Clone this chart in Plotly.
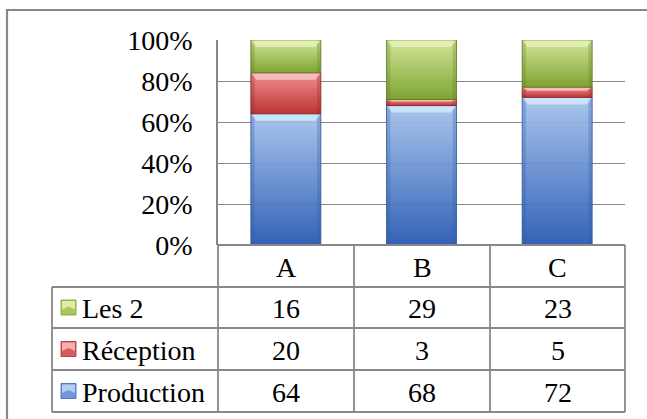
import plotly.graph_objects as go

# Data
categories = ["A", "B", "C"]
series_names = ["Production", "Réception", "Les 2"]
production = [64, 68, 72]
reception = [20, 3, 5]
les2 = [16, 29, 23]
y_ticks = [0, 20, 40, 60, 80, 100]
y_tick_labels = ["0%", "20%", "40%", "60%", "80%", "100%"]

values = [production, reception, les2]

W, H = 647, 419
FONT = '"Liberation Serif", "Times New Roman", Times, serif'

# Per-series gradient (bottom, top), bevel highlight, edge colour, key colours
styles = {
    "Production": dict(bottom="rgba(38,88,178,0.94)", top="rgba(165,194,236,0.94)",
                       bevel="rgba(214,238,252,0.95)", edge="#2f5a9e",
                       key_mid="#6f98d8", key_hi="#b4cdf0", key_lo="#3a66b0"),
    "Réception": dict(bottom="rgba(186,40,40,0.95)", top="rgba(240,140,140,0.95)",
                      bevel="rgba(250,205,205,0.95)", edge="#8a2424",
                      key_mid="#d85a5a", key_hi="#f4b0b0", key_lo="#a83030"),
    "Les 2": dict(bottom="rgba(120,160,40,0.95)", top="rgba(208,228,146,0.95)",
                  bevel="rgba(232,242,192,0.95)", edge="#5a7a22",
                  key_mid="#a8c858", key_hi="#dcecaa", key_lo="#7a9a30"),
}

# Plot area in pixels
PL, PR, PT, PB = 218, 625, 40, 245
half_w = 0.258  # half bar width, in category units
px_per_unit = (PB - PT) / 100.0
edge_w = 0.028  # darker side strips, in category units

fig = go.Figure()

cum = [0, 0, 0]
for name, vals in zip(series_names, values):
    st = styles[name]
    for i, v in enumerate(vals):
        y0, y1 = cum[i], cum[i] + v
        x0, x1 = i - half_w, i + half_w
        # bar segment with vertical gradient
        fig.add_trace(go.Scatter(
            x=[x0, x1, x1, x0, x0], y=[y0, y0, y1, y1, y0],
            mode="lines", fill="toself",
            line=dict(color=st["edge"], width=0.8),
            fillgradient=dict(type="vertical",
                              colorscale=[[0, st["bottom"]], [1, st["top"]]]),
            hoverinfo="skip", showlegend=False,
        ))
        # darker side strips
        for sx0, sx1 in ((x0, x0 + edge_w), (x1 - edge_w, x1)):
            fig.add_trace(go.Scatter(
                x=[sx0, sx1, sx1, sx0, sx0], y=[y0, y0, y1, y1, y0],
                mode="lines", fill="toself", line=dict(width=0),
                fillcolor=st["edge"], opacity=0.28,
                hoverinfo="skip", showlegend=False,
            ))
        # bevel highlight along the top edge of the segment
        bev = min(7 / px_per_unit, v * 0.35)
        inset = 0.04
        ytop = y1 - 0.4 / px_per_unit
        fig.add_trace(go.Scatter(
            x=[x0 + 0.004, x1 - 0.004, x1 - inset, x0 + inset, x0 + 0.004],
            y=[ytop, ytop, y1 - bev, y1 - bev, ytop],
            mode="lines", fill="toself", line=dict(width=0),
            fillcolor=st["bevel"], opacity=0.8,
            hoverinfo="skip", showlegend=False,
        ))
        cum[i] = y1

fig.update_xaxes(
    domain=[PL / W, PR / W], range=[-0.5, 2.5],
    showticklabels=False, showgrid=False, zeroline=False,
    tickvals=[0, 1, 2], fixedrange=True, automargin=False,
)
fig.update_yaxes(
    domain=[1 - PB / H, 1 - PT / H], range=[0, 100],
    tickvals=y_ticks, ticktext=y_tick_labels,
    showgrid=True, gridcolor="#878787", gridwidth=1.3,
    zeroline=False, showline=True, linecolor="#878787", linewidth=1.5,
    tickfont=dict(family=FONT, size=28, color="black"),
    ticks="", ticklabelstandoff=18, fixedrange=True, automargin=False,
)

def px(x):
    return x / W

def py(y):
    return 1 - y / H

line_style = dict(color="#888888", width=1.8)
frame_style = dict(color="#888888", width=2.2)
shapes = []
# chart frame: top and left edges
shapes.append(dict(type="line", xref="paper", yref="paper",
                   x0=px(6), x1=1.0, y0=py(10), y1=py(10), line=frame_style))
shapes.append(dict(type="line", xref="paper", yref="paper",
                   x0=px(7), x1=px(7), y0=py(9), y1=0.0, line=frame_style))

# data table grid
col_x = [PL, 354, 490, PR]
row_y = [PB, 287, 328, 370, 412]
TL = 52
shapes.append(dict(type="line", xref="paper", yref="paper",
                   x0=px(PL), x1=px(PR), y0=py(PB), y1=py(PB), line=line_style))
for yy in row_y[1:]:
    shapes.append(dict(type="line", xref="paper", yref="paper",
                       x0=px(TL), x1=px(PR), y0=py(yy), y1=py(yy), line=line_style))
for xx in col_x:
    shapes.append(dict(type="line", xref="paper", yref="paper",
                       x0=px(xx), x1=px(xx), y0=py(PB), y1=py(row_y[-1]), line=line_style))
shapes.append(dict(type="line", xref="paper", yref="paper",
                   x0=px(TL), x1=px(TL), y0=py(row_y[1]), y1=py(row_y[-1]), line=line_style))

annotations = []
txt_font = dict(family=FONT, size=28, color="black")
# header row: category names
for j, cat in enumerate(categories):
    cx = (col_x[j] + col_x[j + 1]) / 2
    cy = (row_y[0] + row_y[1]) / 2
    annotations.append(dict(x=px(cx), y=py(cy + 1), xref="paper", yref="paper",
                            text=cat, showarrow=False, font=txt_font,
                            xanchor="center", yanchor="middle"))

# one row per series, top row is the last series of the stack
table_rows = list(zip(series_names, values))[::-1]
for r, (name, vals) in enumerate(table_rows):
    top, bot = row_y[r + 1], row_y[r + 2]
    cy = (top + bot) / 2
    st = styles[name]
    # legend key: small glossy square
    k0, k1 = 61, 76
    ky0, ky1 = cy - 7.5, cy + 7.5
    shapes.append(dict(type="rect", xref="paper", yref="paper",
                       x0=px(k0), x1=px(k1), y0=py(ky1), y1=py(ky0),
                       line=dict(color=st["key_lo"], width=0.8),
                       fillcolor=st["key_mid"]))
    shapes.append(dict(type="path", xref="paper", yref="paper",
                       path=(f"M {px(k0 + 1)} {py(ky0 + 1)} L {px(k1 - 1)} {py(ky0 + 1)} "
                             f"L {px(k1 - 1)} {py(cy + 2)} L {px((k0 + k1) / 2)} {py(cy - 1)} "
                             f"L {px(k0 + 1)} {py(cy + 2)} Z"),
                       line=dict(width=0), fillcolor=st["key_hi"]))
    annotations.append(dict(x=px(80), y=py(cy + 1), xref="paper", yref="paper",
                            text=name, showarrow=False, font=txt_font,
                            xanchor="left", yanchor="middle"))
    for j, v in enumerate(vals):
        cx = (col_x[j] + col_x[j + 1]) / 2
        annotations.append(dict(x=px(cx), y=py(cy + 1), xref="paper", yref="paper",
                                text=str(v), showarrow=False, font=txt_font,
                                xanchor="center", yanchor="middle"))

fig.update_layout(
    width=W, height=H,
    margin=dict(l=0, r=0, t=0, b=0, pad=0),
    paper_bgcolor="white", plot_bgcolor="white",
    shapes=shapes, annotations=annotations,
    showlegend=False,
)

fig.write_html("out.html")
